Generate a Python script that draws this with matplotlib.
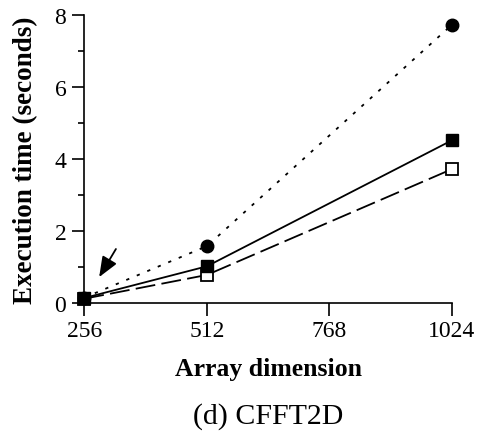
import matplotlib
matplotlib.use("Agg")
import matplotlib.pyplot as plt
from matplotlib.ticker import MultipleLocator

plt.rcParams['font.family'] = ['Liberation Serif', 'DejaVu Serif']

x = [256, 512, 1024]
circle_vals = [0.15, 1.58, 7.73]
filled_sq_vals = [0.14, 1.02, 4.52]
open_sq_vals = [0.12, 0.78, 3.72]
xticks = [256, 512, 768, 1024]
yticks = [0, 2, 4, 6, 8]

fig = plt.figure(figsize=(4.78, 4.35), dpi=100)
ax = fig.add_axes([0.1764, 0.3011, 0.9456 - 0.1764, 0.9632 - 0.3011])

ax.plot(x, circle_vals, color='black', lw=1.3, dashes=(1.8, 4.5), marker='o',
        markersize=9, markerfacecolor='black', clip_on=False, zorder=3)
ax.plot(x, open_sq_vals, color='black', lw=1.3, dashes=(11, 3.5), marker='s',
        markersize=8.5, markerfacecolor='white', markeredgecolor='black',
        markeredgewidth=1.3, clip_on=False, zorder=4)
ax.plot(x, filled_sq_vals, color='black', lw=1.3, linestyle='-', marker='s',
        markersize=9, markerfacecolor='black', clip_on=False, zorder=5)

ax.annotate('', xy=(287, 0.72), xytext=(322, 1.5),
            arrowprops=dict(arrowstyle='-|>,head_length=0.62,head_width=0.25',
                            mutation_scale=20, color='black', lw=1.3,
                            shrinkA=0, shrinkB=0))

ax.set_xlim(256, 1024)
ax.set_ylim(0, 8)
ax.set_xticks(xticks)
ax.set_yticks(yticks)
ax.yaxis.set_minor_locator(MultipleLocator(1))
ax.tick_params(axis='both', which='major', direction='out', length=9, width=1.2,
               labelsize=17, color='black')
ax.tick_params(axis='y', which='minor', direction='out', length=4.5, width=1.2)
ax.tick_params(axis='x', pad=3)
ax.tick_params(axis='y', pad=4)

for s in ['top', 'right']:
    ax.spines[s].set_visible(False)
for s in ['left', 'bottom']:
    ax.spines[s].set_linewidth(1.2)

ax.set_xlabel('Array dimension', fontsize=18.5, fontweight='bold', labelpad=12)
ax.set_ylabel('Execution time (seconds)', fontsize=19.5, fontweight='bold', labelpad=12)
fig.text(268 / 478, 1 - 417 / 435, '(d) CFFT2D', fontsize=21.5,
         ha='center', va='center')

fig.savefig('out.png', dpi=100)
